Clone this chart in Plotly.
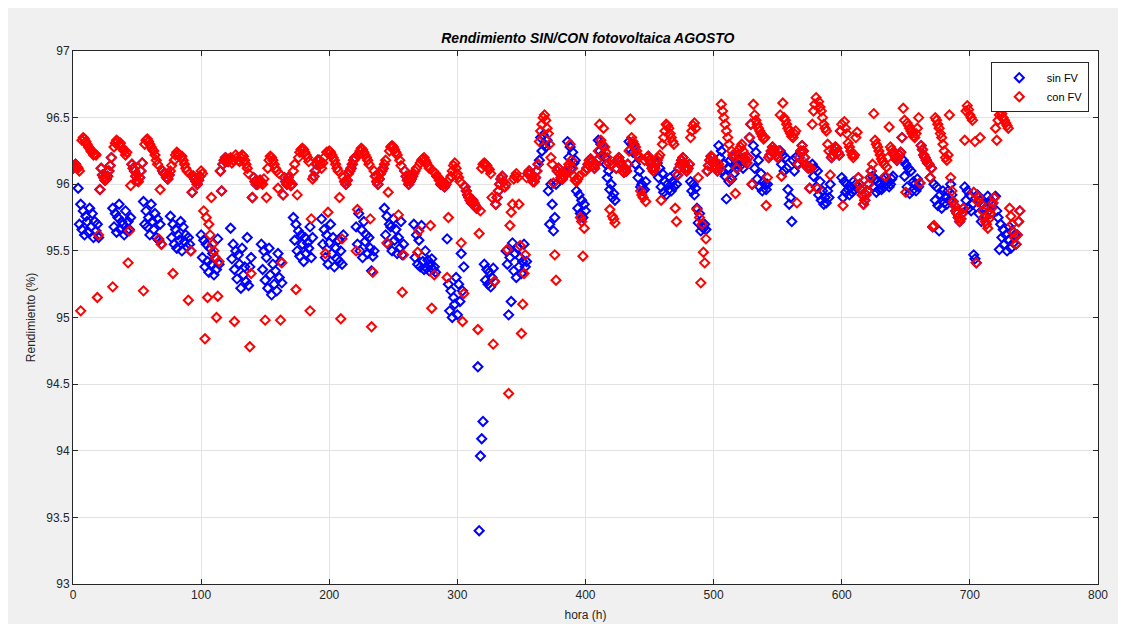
import plotly.graph_objects as go

# Rendimiento con fotovoltaica (%), hourly, one row per day of August
con_fv_dias = [
    [96.12,96.14,96.15,96.13,96.12,96.10,95.05,96.33,96.35,96.34,96.32,96.30,96.28,96.27,96.25,96.24,96.22,96.23,96.22,95.15,95.62,95.96,96.12,96.07],
    [96.05,96.03,96.04,96.06,96.10,96.14,96.20,95.23,96.28,96.31,96.33,96.32,96.30,96.31,96.28,96.26,96.25,96.22,96.24,95.41,95.65,95.99,96.15,96.12],
    [96.10,96.06,96.03,96.02,96.05,96.10,96.16,95.20,96.30,96.33,96.34,96.32,96.30,96.28,96.26,96.25,96.22,96.18,96.15,95.59,95.96,95.55,96.10,96.08],
    [96.08,96.05,96.04,96.07,96.10,96.14,95.33,96.18,96.22,96.24,96.23,96.22,96.20,96.21,96.18,96.15,96.12,96.10,95.13,96.08,95.50,95.94,96.06,96.04],
    [96.02,96.00,96.03,96.06,96.10,96.08,95.80,94.84,95.75,95.15,95.70,95.62,95.90,95.55,95.50,95.45,95.00,95.16,95.42,96.10,95.95,96.15,96.18,96.20],
    [96.18,96.17,96.19,96.20,96.16,96.18,94.97,96.22,96.20,96.18,96.17,96.20,96.22,96.21,96.18,96.15,96.12,96.08,94.78,95.33,95.90,96.05,96.02,96.00],
    [96.00,96.02,96.03,96.01,96.00,96.04,94.98,95.90,96.12,96.18,96.21,96.20,96.18,96.15,96.12,96.10,95.97,96.08,94.98,95.41,95.92,96.05,96.02,96.00],
    [96.05,96.02,95.99,96.00,96.10,96.15,95.21,95.92,96.20,96.24,96.26,96.27,96.26,96.24,96.22,96.20,96.17,95.05,95.74,96.04,96.06,96.10,96.15,96.18],
    [96.18,96.15,96.12,96.16,96.20,95.48,96.24,95.79,96.25,96.24,96.22,96.20,96.18,96.15,96.12,96.10,95.90,94.99,95.59,96.05,96.02,96.00,96.03,96.08],
    [96.10,96.12,96.15,96.18,96.20,95.50,95.81,96.22,96.25,96.27,96.26,96.24,96.22,96.20,96.18,96.15,95.74,94.93,95.34,96.10,96.06,96.02,96.00,96.04],
    [96.08,96.10,96.12,96.15,96.18,95.56,95.94,96.25,96.28,96.29,96.28,96.26,96.24,96.22,95.77,96.18,96.14,95.19,95.47,96.10,96.06,96.03,96.00,96.02],
    [96.04,96.06,96.08,96.10,96.12,95.49,95.65,96.16,96.18,96.19,96.20,96.18,96.16,96.14,96.12,95.69,95.07,96.10,95.32,96.08,96.06,96.05,96.03,96.00],
    [96.02,96.00,95.98,96.00,95.30,95.75,96.04,96.06,96.10,96.14,96.16,96.12,96.08,96.05,96.02,95.56,94.97,95.18,95.98,95.95,95.92,95.90,95.88,95.86],
    [95.88,95.86,95.84,95.82,94.91,95.63,95.80,96.12,96.15,96.16,96.15,96.14,96.12,96.11,96.08,95.90,94.80,95.27,95.85,95.90,95.95,96.00,96.04,96.06],
    [96.02,95.98,96.00,95.51,94.43,95.69,95.79,95.85,96.04,96.06,96.08,96.05,95.85,95.54,94.88,95.10,95.33,95.47,96.05,96.08,96.10,96.08,96.05,96.02],
    [96.02,96.05,96.10,96.15,96.32,96.40,96.45,96.50,96.52,96.48,96.42,96.38,96.30,96.20,96.15,96.01,95.47,95.28,96.10,96.12,96.08,96.05,96.04,96.06],
    [96.08,96.10,96.12,96.15,96.30,96.18,96.12,96.06,96.03,96.02,96.04,96.06,95.75,95.72,95.46,95.67,96.10,96.12,96.15,96.18,96.19,96.17,96.14,96.12],
    [96.15,96.18,96.25,96.45,96.33,96.30,96.42,96.28,96.24,96.20,96.16,95.81,96.14,95.76,95.74,95.71,96.12,96.18,96.20,96.17,96.14,96.10,96.09,96.12],
    [96.10,96.15,96.25,96.49,96.35,96.32,96.30,96.28,96.25,96.22,96.20,95.95,95.92,95.90,96.18,95.87,96.20,96.21,96.18,96.15,96.12,96.10,96.12,96.15],
    [96.18,96.20,96.22,95.88,96.30,96.35,96.40,96.45,96.44,96.42,96.38,96.35,96.32,96.30,95.82,95.72,96.07,96.12,96.15,96.18,96.20,96.16,96.12,96.10],
    [96.12,96.15,96.35,96.40,96.44,96.46,96.42,95.81,96.05,95.75,95.26,95.70,95.49,95.41,95.59,96.10,96.14,96.18,96.21,96.20,96.17,96.14,96.12,96.10],
    [96.15,96.12,96.60,96.55,96.50,96.45,96.40,96.35,96.30,96.04,96.25,96.22,96.20,95.93,96.12,96.22,96.26,96.28,96.30,96.25,96.20,96.18,96.16,96.20],
    [96.35,96.45,96.00,96.60,96.52,96.48,96.45,96.42,96.40,96.38,96.36,96.34,96.35,95.84,96.05,96.20,96.22,96.25,96.28,96.26,96.24,96.22,96.20,96.25],
    [96.52,96.06,96.61,96.50,96.48,96.45,96.42,96.40,96.38,96.36,96.35,96.38,96.40,95.86,96.15,96.20,96.25,96.29,96.25,96.20,96.15,96.13,96.12,95.97],
    [96.12,96.45,96.55,96.60,96.65,95.97,96.62,96.58,96.55,96.50,96.45,96.42,96.40,96.30,96.25,96.07,96.20,96.22,96.25,96.28,96.27,96.24,96.22,96.40],
    [96.45,95.84,96.47,96.42,96.38,96.31,96.28,96.25,96.22,96.20,96.22,96.35,96.39,96.05,96.00,95.96,95.92,95.85,95.88,95.92,95.95,96.00,96.05,96.10],
    [96.15,96.53,96.33,96.30,96.28,96.25,96.22,96.19,96.17,96.15,96.06,96.13,96.20,96.43,96.28,96.26,96.24,96.22,96.20,96.18,96.20,96.22,96.24,96.35],
    [96.57,96.48,95.94,96.46,96.44,96.42,96.40,96.38,96.36,96.35,96.38,96.42,96.50,96.01,96.29,96.26,96.22,96.20,96.18,96.16,96.15,96.05,96.12,95.68],
    [95.69,96.50,96.48,96.45,96.42,96.38,96.35,96.30,96.25,96.20,96.18,96.22,96.52,96.05,95.95,95.87,95.84,95.80,95.78,95.75,95.72,95.74,95.78,95.82],
    [96.33,96.55,96.59,96.56,96.52,96.50,96.48,95.94,96.32,95.41,95.87,95.90,96.35,95.85,95.80,95.75,95.72,95.70,95.67,95.74,95.78,95.82,95.86,95.90],
    [96.42,96.33,96.48,96.52,96.55,96.53,96.50,96.48,96.46,96.44,96.42,95.82,95.76,95.70,95.64,95.60,95.55,95.62,95.72,95.80],
]

# Rendimiento sin fotovoltaica (%), hourly, one row per day of August
sin_fv_dias = [
    [96.12,96.14,96.15,96.13,95.97,95.70,95.85,95.66,95.80,95.62,95.76,95.72,95.64,95.82,95.68,95.78,95.60,95.72,95.65,95.70,95.60,95.96,96.12,96.07],
    [96.05,96.03,96.04,96.06,96.10,96.14,96.20,95.82,95.68,95.78,95.64,95.75,95.85,95.66,95.72,95.70,95.62,95.80,95.65,95.72,95.66,95.75,96.15,96.12],
    [96.10,96.06,96.03,96.02,96.05,96.10,96.16,95.87,95.70,95.80,95.68,95.75,95.62,95.85,95.72,95.66,95.78,95.60,95.74,95.58,95.70,95.55,96.10,96.08],
    [96.08,96.05,96.04,96.07,95.76,95.60,95.70,95.55,95.66,95.52,95.62,95.58,95.72,95.50,95.68,95.57,95.62,95.53,95.60,95.55,95.50,95.94,96.06,96.04],
    [96.02,96.00,96.03,96.06,95.62,95.45,95.58,95.38,95.55,95.42,95.34,95.52,95.40,95.48,95.32,95.45,95.36,95.59,95.40,96.10,95.95,96.15,96.18,96.20],
    [96.18,96.17,96.19,95.67,95.44,95.55,95.36,95.50,95.29,95.47,95.40,95.22,95.52,95.32,95.38,95.27,95.60,95.24,95.38,95.45,95.90,96.05,96.02,96.00],
    [96.00,96.02,96.03,95.55,95.36,95.50,95.28,95.45,95.22,95.52,95.32,95.17,95.40,95.25,95.35,95.20,95.48,95.30,95.42,95.26,95.92,96.05,96.02,96.00],
    [96.05,96.02,95.99,96.00,95.75,95.58,95.70,95.50,95.65,95.46,95.62,95.55,95.42,95.60,95.48,95.56,95.52,95.68,95.45,95.60,96.06,96.10,96.15,96.18],
    [96.18,96.15,95.74,95.55,95.66,95.45,95.62,95.40,95.56,95.70,95.48,95.60,95.38,95.52,95.44,95.58,95.42,95.50,95.40,95.62,96.02,96.00,96.03,96.08],
    [96.10,96.12,96.15,96.18,96.20,95.68,95.55,95.78,95.50,95.66,95.45,95.72,95.57,95.62,95.48,95.60,95.52,95.35,95.46,95.50,96.06,96.02,96.00,96.04],
    [96.08,96.10,96.12,95.82,95.62,95.76,95.55,95.70,95.68,95.50,95.74,95.58,95.66,95.48,95.60,95.52,95.72,95.47,95.55,96.10,96.06,96.03,96.00,96.02],
    [96.04,96.06,95.70,95.45,95.62,95.40,95.58,95.38,95.69,95.42,95.36,95.50,95.37,95.43,95.35,95.40,95.44,95.36,95.38,95.34,96.06,96.05,96.03,96.00],
    [96.02,96.00,95.98,96.00,95.59,95.25,95.05,95.20,95.00,95.15,95.10,95.30,95.02,95.25,95.12,95.48,95.20,95.38,95.98,95.95,95.92,95.90,95.88,95.86],
    [95.88,95.86,95.84,95.82,94.63,93.40,93.96,94.09,94.22,95.40,95.28,95.36,95.25,95.34,95.23,95.30,95.37,95.27,95.85,95.90,95.95,96.00,96.04,96.06],
    [96.02,95.98,95.50,95.40,95.02,95.45,95.12,95.56,95.35,95.48,95.30,95.52,95.38,95.45,95.33,95.42,95.55,95.38,95.42,96.08,96.10,96.08,96.05,96.02],
    [96.02,96.05,96.10,96.15,96.18,96.35,96.25,96.37,96.30,96.28,96.33,95.95,95.70,96.00,95.85,95.65,95.75,96.00,96.10,96.12,96.08,96.05,96.04,96.06],
    [96.08,96.10,96.32,96.20,96.28,96.12,96.24,96.16,96.18,95.95,95.82,95.92,95.78,95.88,95.75,95.85,95.80,96.12,96.15,96.18,96.19,96.17,96.14,96.12],
    [96.15,96.18,96.33,96.25,96.30,96.22,96.28,96.20,96.15,96.05,96.10,95.96,96.00,95.90,95.93,95.88,96.12,96.18,96.20,96.17,96.14,96.10,96.09,96.12],
    [96.10,96.15,96.32,96.26,96.30,96.24,96.28,96.15,96.22,96.05,96.10,95.98,96.00,95.95,95.96,96.02,96.20,96.21,96.18,96.15,96.12,96.10,96.12,96.15],
    [96.16,96.05,96.12,95.98,96.08,95.94,96.02,95.92,96.00,95.96,96.05,95.95,96.02,95.98,96.08,96.00,96.07,96.12,96.15,96.18,96.20,96.16,96.12,96.10],
    [96.12,96.15,96.02,95.95,96.00,95.92,95.97,95.82,95.71,95.78,95.65,95.69,95.67,95.70,95.66,96.10,96.14,96.18,96.21,96.20,96.17,96.14,96.12,96.10],
    [96.29,96.20,96.25,96.10,96.15,96.06,95.89,96.12,96.02,96.18,96.04,96.20,96.08,96.15,96.12,96.15,96.18,96.20,96.15,96.12,96.20,96.18,96.16,96.20],
    [96.35,96.45,96.00,96.29,96.12,96.24,96.04,96.18,95.98,96.08,95.95,96.02,96.00,95.96,96.00,96.20,96.22,96.25,96.28,96.26,96.24,96.22,96.20,96.25],
    [96.25,96.15,96.22,96.10,96.20,96.12,95.96,95.85,95.90,95.72,96.18,96.10,96.20,96.15,96.15,96.20,96.25,96.29,96.25,96.20,96.15,96.13,96.12,95.97],
    [96.12,96.15,96.06,96.12,95.98,96.10,95.92,96.02,95.88,95.95,95.85,95.90,95.86,95.95,95.90,96.00,96.20,96.22,96.25,96.28,96.27,96.24,96.22,96.40],
    [96.05,95.90,96.02,95.94,96.00,95.96,95.92,95.98,95.94,96.02,95.96,96.00,95.98,96.05,96.00,95.96,95.92,95.85,95.88,95.92,95.95,96.00,96.05,96.10],
    [96.06,95.98,96.04,95.94,96.02,95.96,96.00,95.96,96.04,95.98,96.05,96.00,96.02,95.98,96.00,96.04,96.06,96.22,96.20,96.18,96.20,96.22,96.24,96.35],
    [96.18,96.06,96.15,95.98,96.12,95.93,96.10,95.95,96.02,96.00,95.95,96.04,95.98,96.01,96.29,96.26,96.22,96.20,96.18,96.16,96.15,96.05,96.12,95.68],
    [96.00,95.88,95.98,95.84,95.65,95.92,95.82,95.95,95.86,95.90,95.85,95.95,95.88,96.00,95.92,95.87,95.84,95.80,95.78,95.75,95.72,95.74,95.78,95.82],
    [95.98,95.88,95.95,95.82,95.92,95.80,95.85,95.47,95.44,95.41,95.92,95.78,95.88,95.72,95.85,95.75,95.82,95.76,95.91,95.80,95.88,95.85,95.86,95.90],
    [95.91,95.80,95.75,95.51,95.70,95.60,95.66,95.55,95.62,95.50,95.58,95.68,95.52,95.65,95.56,95.62,95.55,95.62,95.72,95.80],
]

con_fv = [v for dia in con_fv_dias for v in dia]
sin_fv = [v for dia in sin_fv_dias for v in dia]
horas = list(range(len(con_fv)))  # one reading per hour

x_ticks = [0, 100, 200, 300, 400, 500, 600, 700, 800]
y_ticks = [93, 93.5, 94, 94.5, 95, 95.5, 96, 96.5, 97]
y_tick_labels = ["93", "93.5", "94", "94.5", "95", "95.5", "96", "96.5", "97"]

FONT = "Liberation Sans, Arial, Helvetica, sans-serif"

fig = go.Figure()
fig.add_trace(go.Scatter(
    x=horas, y=sin_fv, mode="markers", name="sin FV",
    marker=dict(symbol="diamond-open", size=7, color="#0000ff",
                line=dict(width=2, color="#0000ff")),
))
fig.add_trace(go.Scatter(
    x=horas, y=con_fv, mode="markers", name="con FV",
    marker=dict(symbol="diamond-open", size=7, color="#ff0000",
                line=dict(width=2, color="#ff0000")),
))

fig.update_layout(
    width=1126, height=624,
    paper_bgcolor="#f0f0f0", plot_bgcolor="#ffffff",
    margin=dict(l=65, r=36, t=43, b=48, autoexpand=False),
    font=dict(family=FONT, size=12, color="#262626"),
    title=dict(text="<b><i>Rendimiento SIN/CON fotovoltaica AGOSTO</i></b>",
               x=0.515, xanchor="center", y=0.952, yanchor="middle",
               font=dict(family=FONT, size=14, color="#000000")),
    legend=dict(x=0.991, xanchor="right", y=0.979, yanchor="top",
                bgcolor="#ffffff", bordercolor="#262626", borderwidth=1,
                font=dict(family=FONT, size=11, color="#000000"),
                itemwidth=45, entrywidth=80, tracegroupgap=0),
    showlegend=True,
)
fig.update_xaxes(
    range=[0, 800], tickvals=x_ticks, ticks="inside", ticklen=5,
    tickcolor="#262626", showline=True, linecolor="#262626", linewidth=1,
    mirror="ticks", showgrid=True, gridcolor="#e3e3e3", zeroline=False,
    automargin=False,
    title=dict(text="hora (h)", standoff=9, font=dict(size=12)),
)
fig.update_yaxes(
    range=[93, 97], tickvals=y_ticks, ticktext=y_tick_labels, ticks="inside",
    ticklen=5, tickcolor="#262626", showline=True, linecolor="#262626",
    linewidth=1, mirror="ticks", showgrid=True, gridcolor="#e3e3e3",
    zeroline=False, automargin=False,
    title=dict(text="Rendimiento (%)", standoff=8, font=dict(size=12)),
)

fig.write_html("out.html")
